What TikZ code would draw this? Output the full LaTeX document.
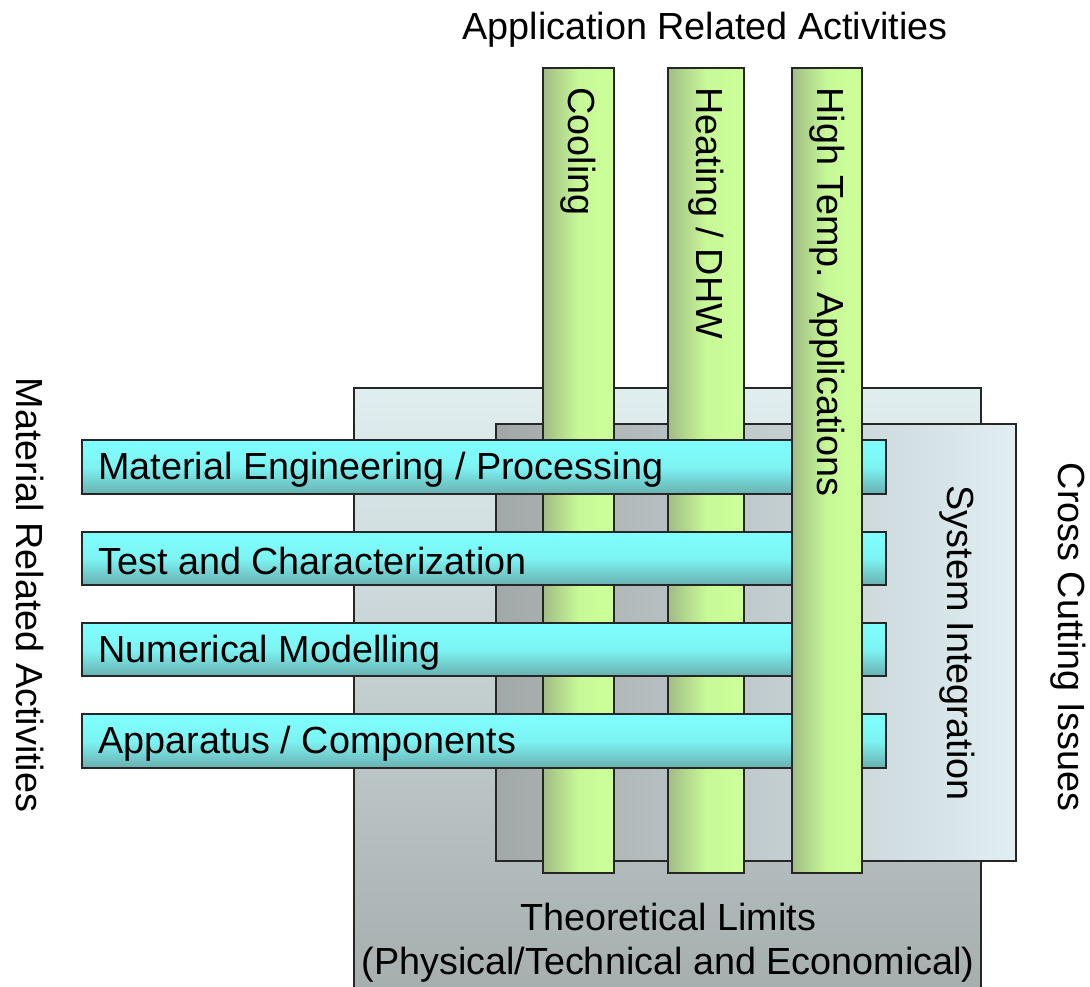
\documentclass[tikz,border=0pt]{standalone}
\usepackage{fontspec}
\setmainfont{Liberation Sans}
\usetikzlibrary{positioning}
\definecolor{greenD}{RGB}{162,188,134}
\definecolor{greenL}{RGB}{204,255,153}
\definecolor{cyanL}{RGB}{128,255,255}
\definecolor{cyanD}{RGB}{106,176,176}
\definecolor{backT}{RGB}{224,238,240}
\definecolor{backB}{RGB}{166,174,174}
\definecolor{sysL}{RGB}{162,168,168}
\definecolor{sysR}{RGB}{224,238,242}
\tikzset{
  box/.style={draw=black!85, line width=0.8pt},
  vbar/.style={box, left color=greenD, right color=greenL, middle color=greenL!90!greenD},
  hbar/.style={box, top color=cyanL, bottom color=cyanD, middle color=cyanL!85!cyanD},
  lbl/.style={font=\fontsize{21.5}{25}\selectfont, inner sep=0pt},
}

\begin{document}
\begin{tikzpicture}[x=0.02cm, y=-0.02cm]

    \useasboundingbox (0,0) rectangle (1090,987);

    % back planes
    \draw[box, top color=backT, bottom color=backB] (354,388) rectangle (981,990);
    \draw[box, left color=sysL, right color=sysR] (496,424) rectangle (1016,861);

    \draw[vbar] (543,68) rectangle (614,873);
    \draw[vbar] (668,68) rectangle (744,873);

    \draw[hbar] (82,440) rectangle (886,494);
    \draw[hbar] (82,532) rectangle (886,585);
    \draw[hbar] (82,623) rectangle (886,676);
    \draw[hbar] (82,714) rectangle (886,768);

    \draw[vbar] (792,68) rectangle (862,873);

    % labels
    \node[lbl] (app) at (705,30) {Application Related Activities};
    \node[lbl, rotate=-90, anchor=west] (cool) at (578,87) {Cooling};
    \node[lbl, rotate=-90, anchor=west] (heat) at (706,87) {Heating / DHW};
    \node[lbl, rotate=-90, anchor=west] (high) at (827,87) {High Temp. Applications};

    \node[lbl, anchor=west] (mateng) at (98,470) {Material Engineering / Processing};
    \node[lbl, anchor=west] (test) at (98,561) {Test and Characterization};
    \node[lbl, anchor=west] (num) at (98,653) {Numerical Modelling};
    \node[lbl, anchor=west] (appar) at (98,744) {Apparatus / Components};

    \node[lbl, rotate=-90] (sys) at (957,643) {System Integration};
    \node[lbl, rotate=-90] (cross) at (1068,637) {Cross Cutting Issues};
    \node[lbl, rotate=-90] (matrel) at (30,595) {Material Related Activities};

    \node[lbl, align=center] (theo) at (668,943) {Theoretical Limits\\(Physical/Technical and Economical)};

\end{tikzpicture}
\end{document}
